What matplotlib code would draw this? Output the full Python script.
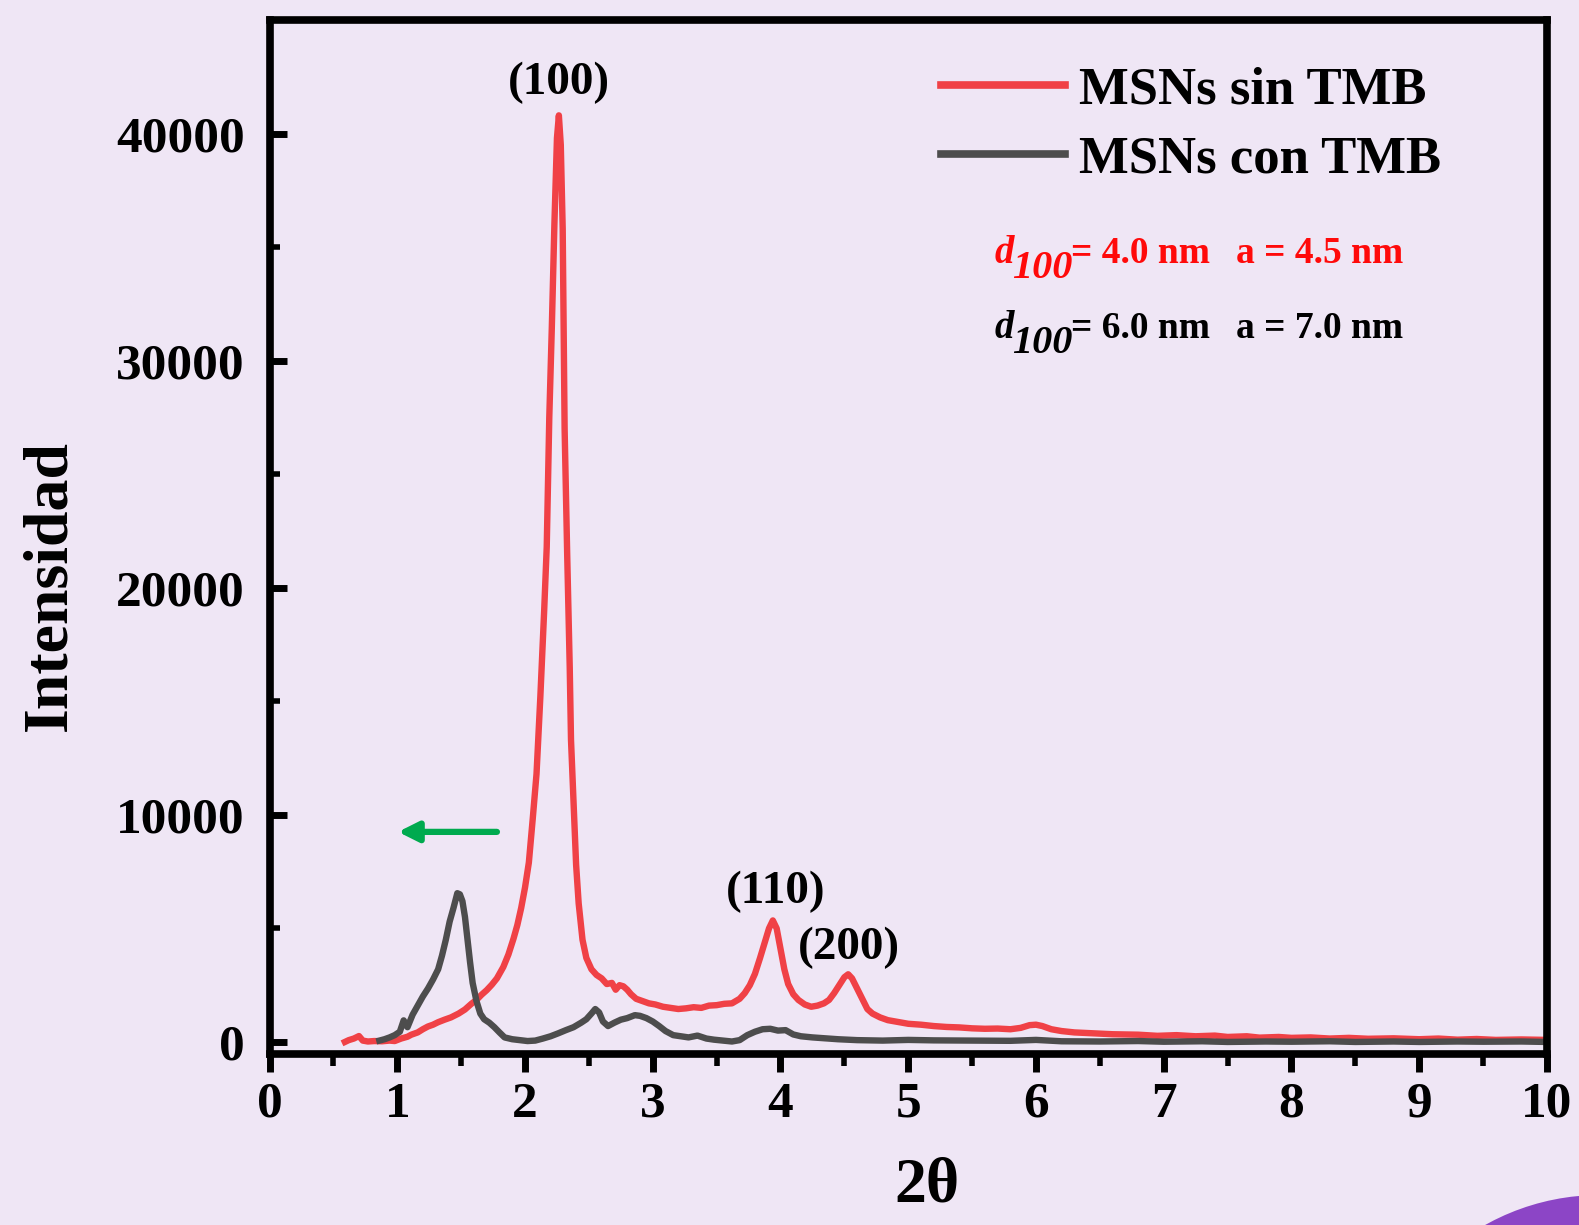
import numpy as np
import matplotlib
matplotlib.use("Agg")
import matplotlib.pyplot as plt
from matplotlib.patches import Ellipse

plt.rcParams['font.family'] = ['Liberation Serif', 'DejaVu Serif']
plt.rcParams['font.weight'] = 'bold'

# MSNs sin TMB (red)
x_sin = [0.59, 0.62, 0.66, 0.70, 0.73, 0.77, 0.82, 0.88, 0.94, 0.98, 1.03, 1.08, 1.11, 1.16,
         1.20, 1.24, 1.28, 1.32, 1.37, 1.42, 1.48, 1.53, 1.58, 1.62, 1.66, 1.70, 1.74, 1.78,
         1.83, 1.87, 1.91, 1.94, 1.97, 2.00, 2.03, 2.06, 2.09, 2.12, 2.15, 2.17, 2.19, 2.21,
         2.23, 2.25, 2.265, 2.28, 2.295, 2.31, 2.33, 2.35, 2.36, 2.38, 2.40, 2.42, 2.45, 2.48,
         2.52, 2.56, 2.60, 2.64, 2.68, 2.71, 2.74, 2.77, 2.80, 2.83, 2.87, 2.92, 2.97, 3.02,
         3.08, 3.14, 3.20, 3.26, 3.32, 3.38, 3.44, 3.50, 3.56, 3.62, 3.68, 3.72, 3.76, 3.80,
         3.84, 3.88, 3.91, 3.94, 3.97, 4.00, 4.03, 4.06, 4.10, 4.14, 4.19, 4.24, 4.29, 4.34,
         4.38, 4.42, 4.46, 4.50, 4.53, 4.56, 4.60, 4.64, 4.68, 4.72, 4.78, 4.84, 4.92, 5.00,
         5.10, 5.20, 5.30, 5.40, 5.50, 5.60, 5.70, 5.80, 5.88, 5.95, 6.00, 6.05, 6.12, 6.20,
         6.30, 6.45, 6.60, 6.80, 6.95, 7.10, 7.25, 7.40, 7.50, 7.65, 7.75, 7.90, 8.00, 8.15,
         8.30, 8.45, 8.60, 8.80, 9.00, 9.15, 9.30, 9.45, 9.60, 9.80, 10.0]
y_sin = [0, 80, 150, 260, 60, 20, 40, 30, 60, 40, 150, 230, 320, 420,
         560, 680, 760, 870, 980, 1080, 1250, 1430, 1680, 1850, 2080, 2280, 2520, 2800,
         3300, 3850, 4550, 5150, 5900, 6800, 7900, 9800, 11800, 15200, 19000, 21800, 27500, 31500,
         36000, 39800, 40800, 39500, 35800, 27000, 21500, 16500, 13300, 10500, 7800, 6100, 4500, 3700,
         3200, 2950, 2800, 2550, 2600, 2300, 2500, 2450, 2300, 2100, 1900, 1800, 1700, 1650,
         1550, 1500, 1450, 1480, 1530, 1500, 1600, 1620, 1680, 1700, 1900, 2150, 2500, 3000,
         3700, 4450, 5000, 5350, 5000, 4100, 3200, 2550, 2100, 1850, 1650, 1550, 1600, 1700,
         1850, 2150, 2500, 2850, 2980, 2800, 2350, 1900, 1450, 1250, 1080, 960, 880, 800,
         760, 700, 660, 640, 600, 580, 590, 560, 620, 740, 760, 700, 560, 480,
         420, 380, 340, 320, 270, 300, 250, 280, 220, 250, 190, 220, 180, 200,
         150, 180, 140, 160, 120, 150, 100, 130, 90, 110, 90]

# MSNs con TMB (grey)
x_con = [0.86, 0.90, 0.94, 0.98, 1.02, 1.05, 1.08, 1.12, 1.16, 1.20, 1.24, 1.28, 1.32, 1.35,
         1.38, 1.41, 1.44, 1.47, 1.49, 1.51, 1.53, 1.55, 1.57, 1.59, 1.62, 1.65, 1.68, 1.72,
         1.76, 1.80, 1.84, 1.90, 1.96, 2.02, 2.08, 2.14, 2.20, 2.26, 2.32, 2.38, 2.44, 2.48,
         2.52, 2.55, 2.58, 2.61, 2.65, 2.70, 2.75, 2.80, 2.86, 2.90, 2.95, 3.00, 3.05, 3.10,
         3.16, 3.22, 3.28, 3.35, 3.42, 3.48, 3.55, 3.62, 3.68, 3.74, 3.80, 3.86, 3.92, 3.98,
         4.04, 4.10, 4.16, 4.25, 4.35, 4.45, 4.60, 4.80, 5.00, 5.20, 5.50, 5.80, 6.00, 6.20,
         6.50, 6.80, 7.00, 7.30, 7.50, 7.80, 8.00, 8.30, 8.50, 8.80, 9.00, 9.30, 9.50, 9.80, 10.0]
y_con = [60, 120, 200, 300, 450, 950, 650, 1200, 1600, 2000, 2350, 2750, 3200, 3800,
         4500, 5300, 5900, 6550, 6500, 6200, 5500, 4500, 3500, 2600, 1800, 1250, 1000, 850,
         650, 420, 200, 120, 80, 40, 60, 150, 250, 380, 520, 650, 850, 1000,
         1250, 1450, 1300, 900, 700, 850, 980, 1050, 1180, 1150, 1050, 900, 700, 480,
         300, 250, 200, 280, 150, 100, 60, 20, 80, 300, 450, 560, 580, 500,
         520, 330, 250, 200, 160, 120, 80, 60, 90, 70, 60, 50, 90, 30,
         20, 40, 10, 30, 0, 20, 10, 30, 0, 20, 0, 20, 10, 20, 0]

x_ticks = [0, 1, 2, 3, 4, 5, 6, 7, 8, 9, 10]
y_ticks = [0, 10000, 20000, 30000, 40000]

peak_labels = ['(100)', '(110)', '(200)']
peak_x = [2.266, 3.965, 4.536]
peak_y = [42230, 6600, 4140]

red = '#F04146'
grey = '#4D4D4D'
bg = '#EFE6F5'

fig = plt.figure(figsize=(15.79, 12.25), dpi=100, facecolor=bg)
ax = fig.add_axes([0.1707, 0.1396, 0.8090, 0.8441])
ax.set_facecolor(bg)

ax.plot(x_sin, y_sin, color=red, lw=4.6, label='MSNs sin TMB', solid_joinstyle='round')
ax.plot(x_con, y_con, color=grey, lw=4.6, label='MSNs con TMB', solid_joinstyle='round')

ax.set_xlim(0, 10)
ax.set_ylim(-530, 45000)
ax.set_xticks(x_ticks)
ax.set_yticks(y_ticks)
ax.set_xticks(np.arange(0.5, 10, 1.0), minor=True)
ax.set_yticks([5000, 15000, 25000, 35000], minor=True)

for s in ax.spines.values():
    s.set_linewidth(5.5)
ax.tick_params(axis='x', which='major', direction='out', length=13, width=5, labelsize=37, pad=7)
ax.tick_params(axis='x', which='minor', direction='out', length=8.5, width=4)
ax.tick_params(axis='y', which='major', direction='in', length=12, width=5, labelsize=37, pad=18)
ax.tick_params(axis='y', which='minor', direction='in', length=7, width=4)
for lab in ax.get_xticklabels() + ax.get_yticklabels():
    lab.set_fontweight('bold')

ax.set_xlabel('2θ', fontsize=46, fontweight='bold', va='center')
ax.xaxis.set_label_coords(0.5147, -0.1286)
ax.set_ylabel('Intensidad', fontsize=46, fontweight='bold', va='center')
ax.yaxis.set_label_coords(-0.1718, 0.4526)

for lab, px, py in zip(peak_labels, peak_x, peak_y):
    ax.text(px, py, lab, fontsize=34, fontweight='bold', ha='center', va='center')

# green arrow showing the shift
ax.annotate('', xy=(1.006, 9250), xytext=(1.78, 9250),
            arrowprops=dict(arrowstyle='-|>,head_length=1.2,head_width=0.6',
                            color='#00AA4F', lw=4.5, shrinkA=0, shrinkB=0))

leg = ax.legend(loc='upper left', bbox_to_anchor=(941 / 1579, 1 - 66 / 1225),
                bbox_transform=fig.transFigure, frameon=False, fontsize=38,
                handlelength=2.34, handletextpad=0.28, borderpad=0, borderaxespad=0,
                labelspacing=0.40)
for t in leg.get_texts():
    t.set_fontweight('bold')
for h in leg.get_lines():
    h.set_linewidth(5.5)


def px_text(x, y, s, **kw):
    fig.text(x / 1579, 1 - y / 1225, s, va='baseline', ha='left', **kw)


for col, base, vals in [('#FF0A0A', 263, ('= 4.0 nm', 'a = 4.5 nm')),
                        ('black', 338, ('= 6.0 nm', 'a = 7.0 nm'))]:
    px_text(995, base, 'd', fontsize=28, fontstyle='italic', fontweight='bold', color=col)
    px_text(1012, base + 15, '100', fontsize=29, fontstyle='italic', fontweight='bold', color=col)
    px_text(1071, base, vals[0], fontsize=27, fontweight='bold', color=col)
    px_text(1236, base, vals[1], fontsize=27, fontweight='bold', color=col)

# purple corner decoration (radius 235 px)
fig.add_artist(Ellipse((1600 / 1579, 1 - 1430 / 1225), 2 * 235 / 1579, 2 * 235 / 1225,
                       transform=fig.transFigure, facecolor='#8C45C6', edgecolor='none'))

fig.savefig('out.png', dpi=100, facecolor=bg)
